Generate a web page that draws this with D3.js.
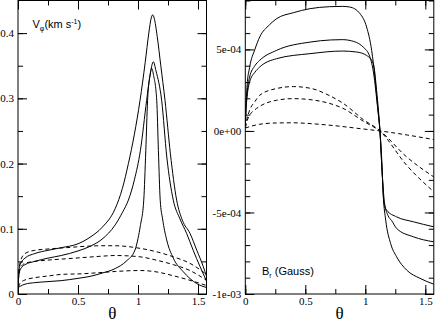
<!DOCTYPE html>
<html>
<head>
<meta charset="UTF-8">
<script src="https://d3js.org/d3.v7.min.js"></script>
<style>
  body { margin: 0; background: #fff; }
  .tick text { font-family: "Liberation Serif", "Times New Roman", serif; font-size: 11px; fill: #000; }
  .domain { display: none; }
  .tick line { stroke: #000; }
</style>
</head>
<body>
<svg width="436" height="322"></svg>
<script>
// x axis: theta (0 .. pi/2)
const thetaTicks = [0, 0.5, 1, 1.5];
const thetaLabels = ["0", "0.5", "1", "1.5"];

// left panel: v_phi (km/s)
const vTicks = [0, 0.1, 0.2, 0.3, 0.4];
const vLabels = ["0", "0.1", "0.2", "0.3", "0.4"];
const vSolid1 = [[0,0],[0.005,0.03],[0.02,0.046],[0.058,0.055],[0.14,0.062],[0.25,0.067],[0.36,0.071],[0.5,0.077],[0.6,0.087],[0.7,0.102],[0.81,0.131],[0.87,0.162],[0.92,0.2],[0.97,0.245],[1.017,0.297],[1.06,0.355],[1.09,0.4],[1.11,0.423],[1.122,0.428],[1.135,0.423],[1.16,0.395],[1.19,0.35],[1.225,0.297],[1.27,0.215],[1.322,0.144],[1.37,0.113],[1.433,0.093],[1.49,0.067],[1.544,0.042],[1.5708,0.027]];
const vSolid2 = [[0,0],[0.005,0.025],[0.02,0.038],[0.058,0.045],[0.14,0.05],[0.25,0.055],[0.36,0.059],[0.5,0.066],[0.6,0.073],[0.7,0.084],[0.81,0.106],[0.87,0.125],[0.92,0.144],[0.97,0.175],[1.02,0.22],[1.072,0.297],[1.1,0.335],[1.128,0.356],[1.15,0.342],[1.197,0.297],[1.24,0.21],[1.294,0.144],[1.35,0.115],[1.405,0.093],[1.46,0.067],[1.517,0.042],[1.5708,0.02]];
const vSolid3 = [[0,0],[0.005,0.01],[0.02,0.012],[0.058,0.015],[0.14,0.0174],[0.25,0.019],[0.36,0.0205],[0.5,0.024],[0.6,0.027],[0.7,0.032],[0.81,0.039],[0.9,0.05],[0.975,0.0675],[1.0,0.085],[1.02,0.105],[1.048,0.144],[1.065,0.22],[1.08,0.297],[1.1,0.335],[1.114,0.346],[1.13,0.335],[1.156,0.297],[1.17,0.22],[1.185,0.144],[1.205,0.115],[1.239,0.083],[1.294,0.055],[1.378,0.034],[1.489,0.016],[1.5708,0.01]];
const vDash1 = [[0,0],[0.005,0.03],[0.02,0.05],[0.058,0.062],[0.14,0.067],[0.25,0.069],[0.4,0.071],[0.55,0.073],[0.7,0.074],[0.81,0.074],[0.9,0.073],[1.017,0.07],[1.15,0.065],[1.294,0.057],[1.433,0.047],[1.5708,0.03]];
const vDash2 = [[0,0],[0.005,0.025],[0.02,0.04],[0.058,0.047],[0.14,0.05],[0.25,0.052],[0.4,0.054],[0.55,0.056],[0.7,0.058],[0.81,0.059],[1.017,0.057],[1.15,0.052],[1.294,0.045],[1.433,0.036],[1.5708,0.021]];
const vDash3 = [[0,0],[0.005,0.01],[0.02,0.017],[0.058,0.0215],[0.14,0.025],[0.25,0.0276],[0.36,0.03],[0.53,0.031],[0.7,0.033],[0.81,0.0345],[1.017,0.036],[1.15,0.034],[1.294,0.028],[1.433,0.021],[1.5708,0.013]];

// right panel: B_r (Gauss)
const bTicks = [-1e-3, -5e-4, 0, 5e-4];
const bLabels = ["-1e-03", "-5e-04", "0e+00", "5e-04"];
const bSolid1 = [[0,0.2e-4],[0.005,1.5e-4],[0.015,2.8e-4],[0.036,3.9e-4],[0.08,5.0e-4],[0.12,5.76e-4],[0.2,6.5e-4],[0.26,6.88e-4],[0.4,7.25e-4],[0.54,7.5e-4],[0.7,7.62e-4],[0.81,7.64e-4],[0.87,7.6e-4],[0.956,7.19e-4],[1.011,6.37e-4],[1.053,4.94e-4],[1.08,3.3e-4],[1.108,1.08e-4],[1.122,0],[1.136,-1.6e-4],[1.15,-4.0e-4],[1.17,-5.47e-4],[1.211,-6.9e-4],[1.261,-7.72e-4],[1.344,-8.53e-4],[1.456,-9.04e-4],[1.5708,-9.4e-4]];
const bSolid2 = [[0,0.2e-4],[0.005,1.3e-4],[0.015,2.3e-4],[0.036,3.3e-4],[0.08,4.0e-4],[0.12,4.33e-4],[0.26,4.94e-4],[0.54,5.45e-4],[0.71,5.58e-4],[0.81,5.6e-4],[0.872,5.55e-4],[0.983,5.14e-4],[1.039,4.53e-4],[1.07,3.5e-4],[1.1,1.6e-4],[1.122,0],[1.14,-2.5e-4],[1.16,-4.4e-4],[1.19,-5.2e-4],[1.22,-5.5e-4],[1.261,-5.98e-4],[1.4,-6.49e-4],[1.5708,-6.8e-4]];
const bSolid3 = [[0,0.2e-4],[0.005,1.2e-4],[0.015,2.1e-4],[0.036,3.0e-4],[0.08,3.6e-4],[0.12,3.92e-4],[0.26,4.43e-4],[0.54,4.74e-4],[0.81,4.9e-4],[0.928,4.84e-4],[1.011,4.63e-4],[1.067,4.12e-4],[1.094,2.49e-4],[1.122,0],[1.14,-2.5e-4],[1.155,-4.4e-4],[1.178,-4.86e-4],[1.261,-5.27e-4],[1.4,-5.57e-4],[1.5708,-5.88e-4]];
const bDash1 = [[0,0.2e-4],[0.01,0.6e-4],[0.036,1.27e-4],[0.08,1.8e-4],[0.12,2.19e-4],[0.26,2.6e-4],[0.4,2.72e-4],[0.54,2.62e-4],[0.706,2.15e-4],[0.81,1.72e-4],[0.983,0.7e-4],[1.122,0],[1.344,-2.1e-4],[1.5708,-3.73e-4]];
const bDash2 = [[0,0.2e-4],[0.01,0.5e-4],[0.036,0.96e-4],[0.08,1.3e-4],[0.12,1.51e-4],[0.26,1.88e-4],[0.4,1.98e-4],[0.54,1.92e-4],[0.706,1.68e-4],[0.81,1.4e-4],[0.983,0.6e-4],[1.122,0],[1.344,-1.59e-4],[1.5708,-2.82e-4]];
const bDash3 = [[0,0.18e-4],[0.12,0.41e-4],[0.26,0.49e-4],[0.4,0.5e-4],[0.54,0.45e-4],[0.706,0.35e-4],[0.983,0.12e-4],[1.122,0],[1.35,-0.25e-4],[1.5708,-0.53e-4]];

const svg = d3.select("svg");
const thetaMax = Math.PI / 2;

function panel(opts) {
  const x = d3.scaleLinear().domain([0, thetaMax]).range([opts.x0, opts.x1]);
  const y = d3.scaleLinear().domain(opts.yDomain).range([294, 0.5]);
  const g = svg.append("g");
  const clipId = "clip" + opts.x0;
  g.append("clipPath").attr("id", clipId).append("rect")
    .attr("x", opts.x0).attr("y", 0.5).attr("width", opts.x1 - opts.x0).attr("height", 293.5);

  // minor ticks
  const xMinor = d3.range(0, thetaMax, 0.25);
  g.append("g").attr("transform", "translate(0,294)")
    .call(d3.axisBottom(x).tickValues(xMinor).tickSize(-5).tickFormat(""));
  g.append("g").attr("transform", "translate(0,0.5)")
    .call(d3.axisTop(x).tickValues(xMinor).tickSize(-5).tickFormat(""));
  g.append("g").attr("transform", "translate(" + opts.x0 + ",0)")
    .call(d3.axisLeft(y).tickValues(opts.yMinor).tickSize(-5).tickFormat(""));
  g.append("g").attr("transform", "translate(" + opts.x1 + ",0)")
    .call(d3.axisRight(y).tickValues(opts.yMinor).tickSize(-5).tickFormat(""));

  // major ticks
  g.append("g").attr("transform", "translate(0,294)")
    .call(d3.axisBottom(x).tickValues(thetaTicks).tickSize(-9).tickPadding(3)
      .tickFormat((d, i) => thetaLabels[i]));
  g.append("g").attr("transform", "translate(0,0.5)")
    .call(d3.axisTop(x).tickValues(thetaTicks).tickSize(-9).tickFormat(""));
  g.append("g").attr("transform", "translate(" + opts.x0 + ",0)")
    .call(d3.axisLeft(y).tickValues(opts.yTicks).tickSize(-9).tickPadding(4)
      .tickFormat((d, i) => opts.yLabels[i]));
  g.append("g").attr("transform", "translate(" + opts.x1 + ",0)")
    .call(d3.axisRight(y).tickValues(opts.yTicks).tickSize(-9).tickFormat(""));

  // curves
  const line = d3.line().x(d => x(d[0])).y(d => y(d[1])).curve(d3.curveMonotoneX);
  const curves = g.append("g").attr("clip-path", "url(#" + clipId + ")");
  opts.solid.forEach(s => {
    curves.append("path").attr("d", line(s)).attr("fill", "none")
      .attr("stroke", "#000").attr("stroke-width", 1);
  });
  opts.dashed.forEach(s => {
    curves.append("path").attr("d", line(s)).attr("fill", "none")
      .attr("stroke", "#000").attr("stroke-width", 1).attr("stroke-dasharray", "4,3");
  });

  // frame
  g.append("rect").attr("x", opts.x0).attr("y", 0.5)
    .attr("width", opts.x1 - opts.x0).attr("height", 293.5)
    .attr("fill", "none").attr("stroke", "#000").attr("stroke-width", 1);

  // theta label
  g.append("text").attr("x", (opts.x0 + opts.x1) / 2).attr("y", 319)
    .attr("text-anchor", "middle")
    .style("font-family", "'Liberation Serif', serif").style("font-size", "17px")
    .text("θ");
  return g;
}

const left = panel({
  x0: 18, x1: 206.5, yDomain: [0, 0.45],
  yTicks: vTicks, yLabels: vLabels, yMinor: d3.range(0, 0.45, 0.05),
  solid: [vSolid1, vSolid2, vSolid3], dashed: [vDash1, vDash2, vDash3]
});
const right = panel({
  x0: 245.3, x1: 433.8, yDomain: [-1e-3, 8e-4],
  yTicks: bTicks, yLabels: bLabels, yMinor: d3.range(-1e-3, 8.01e-4, 1e-4),
  solid: [bSolid1, bSolid2, bSolid3], dashed: [bDash1, bDash2, bDash3]
});

// panel labels
const lab1 = left.append("text").attr("x", 32.5).attr("y", 28)
  .style("font-family", "'Liberation Sans', Arial, sans-serif").style("font-size", "11px");
lab1.append("tspan").text("V");
lab1.append("tspan").attr("dy", 3).style("font-size", "7px").text("φ");
lab1.append("tspan").attr("dy", -3).text("(km s");
lab1.append("tspan").attr("dy", -4).style("font-size", "7px").text("-1");
lab1.append("tspan").attr("dy", 4).text(")");

const lab2 = right.append("text").attr("x", 262).attr("y", 275)
  .style("font-family", "'Liberation Sans', Arial, sans-serif").style("font-size", "11px");
lab2.append("tspan").text("B");
lab2.append("tspan").attr("dy", 3).style("font-size", "7px").text("r");
lab2.append("tspan").attr("dy", -3).text(" (Gauss)");
</script>
</body>
</html>
